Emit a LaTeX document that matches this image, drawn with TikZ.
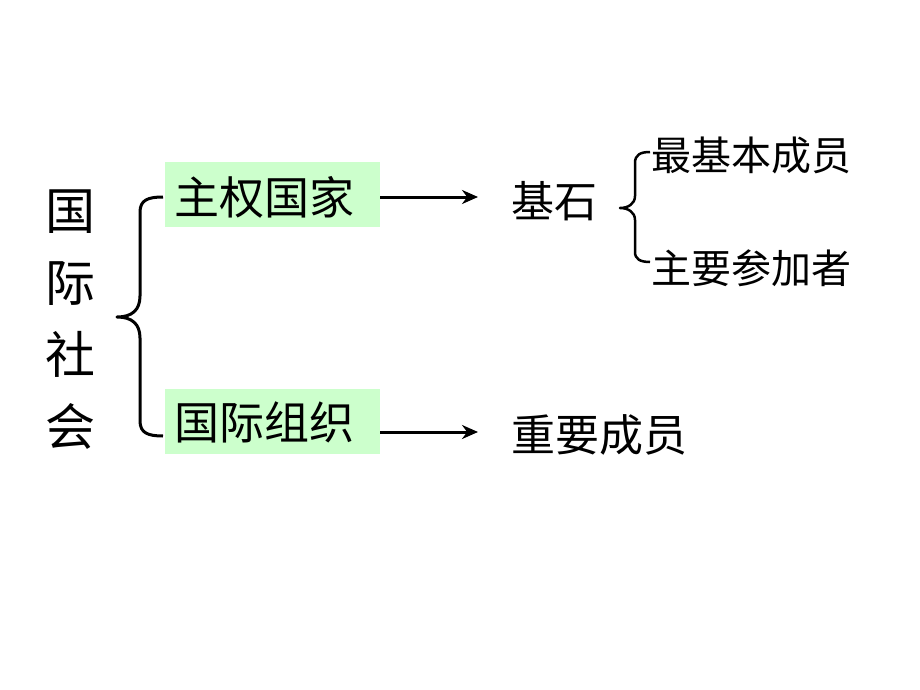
\documentclass[tikz,border=0pt]{standalone}
\usepackage{fontspec}
\setmainfont{Noto Sans CJK SC}
\usetikzlibrary{arrows.meta}
\definecolor{boxgreen}{RGB}{204,255,204}
\tikzset{
  lbl/.style={inner sep=0pt, anchor=west, text=black},
  gbox/.style={fill=boxgreen, minimum width=215pt, minimum height=65pt, inner sep=0pt},
  arr/.style={line width=3pt, -{Stealth[length=16pt,width=14pt]}},
  brace/.style={line width=3pt, line join=round}
}
\begin{document}
\begin{tikzpicture}[x=1pt,y=-1pt]
\useasboundingbox[fill=white] (0,0) rectangle (920,690);
% vertical title
\node[inner sep=0pt, align=center, font=\fontsize{50pt}{72pt}\selectfont] (title) at (70,320) {国\\际\\社\\会};
% boxes
\node[gbox] (box1) at (272.5,194.5) {};
\node[lbl, font=\fontsize{45pt}{50pt}\selectfont] (t1) at (174,197) {主权国家};
\node[gbox] (box2) at (272.5,421) {};
\node[lbl, font=\fontsize{45pt}{50pt}\selectfont] (t2) at (174,422) {国际组织};
% right texts
\node[lbl, font=\fontsize{43pt}{48pt}\selectfont] (jishi) at (511,201) {基石};
\node[lbl, font=\fontsize{44pt}{48pt}\selectfont] (zhongyao) at (511,435) {重要成员};
\node[lbl, font=\fontsize{40pt}{44pt}\selectfont] (zuiji) at (651,155) {最基本成员};
\node[lbl, font=\fontsize{40pt}{44pt}\selectfont] (zhuyao) at (651,268) {主要参加者};
% arrows
\draw[arr] (box1.east |- 0,197) -- (478,197) coordinate (a1);
\draw[arr] (box2.east |- 0,432) -- (478,432) coordinate (a2);
% big brace
\coordinate (b1) at (163,197);
\coordinate (b2) at (163,436);
\coordinate (bm) at (117,317);
\draw[brace] (b1) .. controls (148,197) and (140,200) .. (140,212)
  -- (140,296) .. controls (140,310) and (132,317) .. (bm)
  .. controls (132,317) and (140,324) .. (140,338)
  -- (140,421) .. controls (140,433) and (148,436) .. (b2);
% small brace
\coordinate (s1) at (650,152);
\coordinate (s2) at (650,262);
\coordinate (sm) at (620,208);
\draw[brace, line width=2.5pt] (s1) .. controls (640,152) and (635,155) .. (635,163)
  -- (635,196) .. controls (635,204) and (628,208) .. (sm)
  .. controls (628,208) and (635,212) .. (635,220)
  -- (635,252) .. controls (635,259) and (640,262) .. (s2);
\end{tikzpicture}
\end{document}
